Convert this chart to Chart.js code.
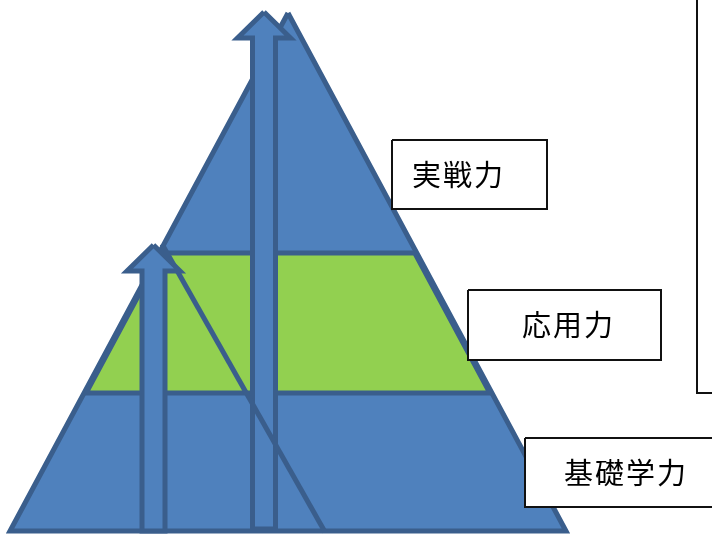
<!DOCTYPE html>
<html><head><meta charset="utf-8">
<script src="https://cdn.jsdelivr.net/npm/chart.js@4"></script>
<style>html,body{margin:0;padding:0;background:#fff}canvas{display:block}</style>
</head><body>
<canvas id="c" width="712" height="534"></canvas>
<script>
// Pyramid outline: apex, base-left, base-right
const pyramidX = [288, 10, 566];
const pyramidY = [13, 531, 531];
// Level bands (top -> bottom)
const levelNames = ['実戦力', '応用力', '基礎学力'];
const bandTopY = [13, 253, 393];
const bandBottomY = [253, 393, 531];
// Growth arrows: centre x, tip y, base y
const arrowCenterX = [264, 153.5];
const arrowTipY = [12, 245];
const arrowBaseY = [529, 531];
// Right edge of the small pyramid
const slopeLineX = [162, 325];
const slopeLineY = [244, 532];
// Label boxes (incl. the large empty box at right)
const boxLeft = [392, 468, 525, 697];
const boxRight = [547, 661, 740, 740];
const boxTop = [140, 290, 438, -10];
const boxBottom = [209, 360, 507, 393];
const labelX = [457.5, 567.5, 625];
const labelY = [175, 325, 473];

const BLUE = '#4f81bd', DARK = '#3a5e8c', GREEN = '#92d050';

function edgeX(y, side) {
  const t = (y - pyramidY[0]) / (pyramidY[1] - pyramidY[0]);
  const bx = side < 0 ? pyramidX[1] : pyramidX[2];
  return pyramidX[0] + (bx - pyramidX[0]) * t;
}
function poly(xs, ys) {
  const pts = xs.map((x, i) => ({x, y: ys[i]}));
  pts.push({x: xs[0], y: ys[0]});
  return pts;
}
function arrow(cx, ty, by) {
  const hw = 11.5, ww = 26.5, hh = 26;
  return poly([cx, cx + ww, cx + hw, cx + hw, cx - hw, cx - hw, cx - ww],
              [ty, ty + hh, ty + hh, by, by, ty + hh, ty + hh]);
}
function shapeDs(data, fillColor, borderColor, width, order) {
  return {type: 'line', data, fill: fillColor ? 'shape' : false,
    backgroundColor: fillColor || 'transparent', borderColor, borderWidth: width,
    pointRadius: 0, tension: 0, order, borderJoinStyle: 'miter', clip: false};
}

const greenTop = bandTopY[1], greenBot = bandBottomY[1];
const SW = 5, INSET = 2;
const datasets = [];
let ord = 100;
datasets.push(shapeDs(poly(pyramidX, pyramidY), BLUE, DARK, SW, ord--));
datasets.push(shapeDs(poly([edgeX(greenTop,-1) + INSET, edgeX(greenTop,1) - INSET, edgeX(greenBot,1) - INSET, edgeX(greenBot,-1) + INSET],
  [greenTop, greenTop, greenBot, greenBot]), GREEN, DARK, SW, ord--));
datasets.push(shapeDs(arrow(arrowCenterX[0], arrowTipY[0], arrowBaseY[0]), BLUE, DARK, SW, ord--));
datasets.push(shapeDs(slopeLineX.map((x, i) => ({x, y: slopeLineY[i]})), null, DARK, SW, ord--));
datasets.push(shapeDs(arrow(arrowCenterX[1], arrowTipY[1], arrowBaseY[1]), BLUE, DARK, SW, ord--));
for (let i = 0; i < boxLeft.length; i++) {
  datasets.push(shapeDs(poly([boxLeft[i], boxRight[i], boxRight[i], boxLeft[i]],
    [boxTop[i], boxTop[i], boxBottom[i], boxBottom[i]]), '#ffffff', '#111111', 2, ord--));
}

const labelPlugin = {
  id: 'labels',
  afterDatasetsDraw(chart) {
    const {ctx, scales: {x, y}} = chart;
    ctx.save();
    const fs = 29, sp = 2;
    ctx.font = fs + 'px "Noto Sans CJK JP", sans-serif';
    ctx.fillStyle = '#000';
    ctx.textBaseline = 'middle';
    ctx.textAlign = 'left';
    levelNames.forEach((name, i) => {
      const chars = Array.from(name);
      const total = chars.length * fs + (chars.length - 1) * sp;
      let px = x.getPixelForValue(labelX[i]) - total / 2;
      const py = y.getPixelForValue(labelY[i]);
      chars.forEach(ch => { ctx.fillText(ch, px, py); px += fs + sp; });
    });
    ctx.restore();
  }
};

new Chart(document.getElementById('c'), {
  type: 'line',
  data: {datasets},
  options: {
    responsive: false, animation: false, devicePixelRatio: 1,
    layout: {padding: 0},
    scales: {
      x: {type: 'linear', min: 0, max: 712, display: false},
      y: {type: 'linear', min: 0, max: 534, reverse: true, display: false}
    },
    plugins: {legend: {display: false}, tooltip: {enabled: false}}
  },
  plugins: [labelPlugin]
});
</script>
</body></html>
